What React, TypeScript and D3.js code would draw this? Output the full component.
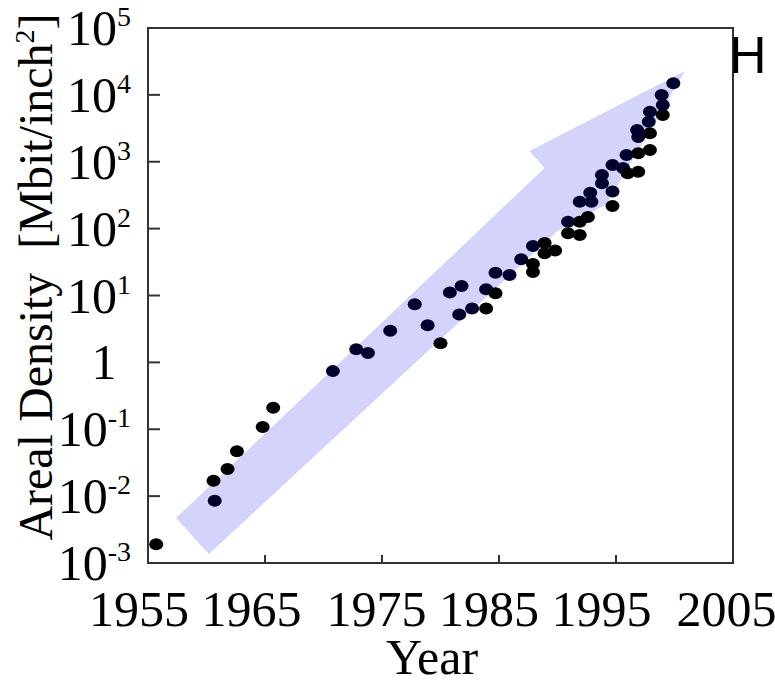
import React from "react";
import * as d3 from "d3";

// ---- data ----
const years = [
  1955.7, 1960.6, 1960.7, 1961.8, 1962.6, 1964.8, 1965.7, 1970.8, 1972.8, 1973.8,
  1975.7, 1977.8, 1978.9, 1980.0, 1980.8, 1981.8, 1981.6, 1982.7, 1983.9, 1983.9,
  1984.7, 1984.7, 1985.9, 1986.9, 1987.9, 1987.9, 1987.9, 1988.9, 1988.9, 1989.8,
  1990.9, 1990.9, 1991.9, 1991.9, 1992.6, 1991.9, 1992.8, 1992.9, 1993.8, 1993.8,
  1994.7, 1994.7, 1994.7, 1995.6, 1996.0, 1996.9, 1995.9, 1996.9, 1997.9, 1996.9,
  1996.8, 1997.9, 1997.8, 1997.9, 1999.0, 1999.0, 1998.9, 1999.9,
];
const densities = [
  0.0019, 0.017, 0.0085, 0.0255, 0.047, 0.108, 0.21, 0.74, 1.57, 1.38,
  2.98, 7.4, 3.6, 1.93, 11.1, 13.9, 5.2, 6.4, 6.4, 12.4,
  10.8, 21.9, 20.3, 34.8, 55, 29.6, 22.5, 61, 42.8, 47.1,
  127, 85, 127, 80, 149, 253, 344, 253, 634, 476,
  359, 218, 894, 807, 672, 710, 1260, 1340, 1500, 2340,
  2990, 2660, 3970, 5600, 5000, 7060, 9950, 14900,
];

// arrow outline (year, density)
const arrowYears = [1957.4, 1988.9, 1987.6, 2000.9, 1994.2, 1990.0, 1960.2];
const arrowValues = [0.0047, 807, 1449, 22750, 233, 92, 0.00136];

const yTickValues = [1e-3, 1e-2, 1e-1, 1, 1e1, 1e2, 1e3, 1e4, 1e5];
const yTickExponents = ["-3", "-2", "-1", "", "1", "2", "3", "4", "5"];
const xTickYears = [1965, 1975, 1985, 1995];
const xTickLabelText = "1955 1965  1975 1985 1995  2005";
const xTitle = "Year";
const yTitleMain = "Areal Density  [Mbit/inch";
const yTitleSup = "2";
const yTitleEnd = "]";
const panelLetter = "H";

export default function App() {
  const W = 775;
  const H = 685;
  const x = d3.scaleLinear().domain([1955, 2005]).range([148, 733]);
  const y = d3.scaleLog().domain([1e-3, 1e5]).range([563, 28]);

  const arrowPts: [number, number][] = arrowYears.map((yr, i) => [x(yr), y(arrowValues[i])]);
  const arrowPath = (d3.line()(arrowPts) || "") + "Z";

  const serif = "'Liberation Serif', 'Times New Roman', serif";
  const axisColor = "#333";

  return (
    <svg
      width={W}
      height={H}
      viewBox={`0 0 ${W} ${H}`}
      style={{ position: "absolute", left: 0, top: 0, background: "#fff" }}
    >
      <rect x={0} y={0} width={W} height={H} fill="#fff" />
      {/* arrow */}
      <path d={arrowPath} fill="#d3d3fb" />
      {/* dots */}
      {years.map((yr, i) => {
        const cx = x(yr);
        const cy = y(densities[i]);
        const inside = d3.polygonContains(arrowPts, [cx, cy]);
        return (
          <ellipse
            key={i}
            cx={cx}
            cy={cy}
            rx={7}
            ry={6}
            fill={inside ? "#00002e" : "#000"}
          />
        );
      })}
      {/* frame */}
      <rect
        x={x(1955)}
        y={y(1e5)}
        width={x(2005) - x(1955)}
        height={y(1e-3) - y(1e5)}
        fill="none"
        stroke={axisColor}
        strokeWidth={2}
      />
      {/* y ticks (interior decades) */}
      {yTickValues.slice(1, -1).map((v) => (
        <line
          key={"yt" + v}
          x1={x(1955)}
          x2={x(1955) + 12}
          y1={y(v)}
          y2={y(v)}
          stroke={axisColor}
          strokeWidth={2}
        />
      ))}
      {/* x ticks */}
      {xTickYears.map((yr) => (
        <line
          key={"xt" + yr}
          x1={x(yr)}
          x2={x(yr)}
          y1={y(1e-3)}
          y2={y(1e-3) - 8}
          stroke={axisColor}
          strokeWidth={2}
        />
      ))}
      {/* y tick labels */}
      {yTickValues.map((v, i) => {
        const e = yTickExponents[i];
        if (e === "") {
          return (
            <text
              key={"yl" + v}
              x={104}
              y={y(v) + 17}
              fontFamily={serif}
              fontSize={50}
              textAnchor="middle"
              fill="#000"
            >
              1
            </text>
          );
        }
        return (
          <text
            key={"yl" + v}
            x={131}
            y={y(v) + 17}
            fontFamily={serif}
            fontSize={50}
            textAnchor="end"
            fill="#000"
          >
            10
            <tspan fontSize={28} dy={-19}>
              {e}
            </tspan>
          </text>
        );
      })}
      {/* x tick labels (single string as in original) */}
      <text
        x={89}
        y={626}
        fontFamily={serif}
        fontSize={50}
        fill="#000"
        style={{ whiteSpace: "pre" }}
        xmlSpace="preserve"
      >
        {xTickLabelText}
      </text>
      {/* x title */}
      <text x={432} y={674} fontFamily={serif} fontSize={50} textAnchor="middle" fill="#000">
        {xTitle}
      </text>
      {/* y title */}
      <text
        transform={`translate(52, ${277}) rotate(-90)`}
        fontFamily={serif}
        fontSize={48}
        textAnchor="middle"
        fill="#000"
        style={{ whiteSpace: "pre" }}
        xmlSpace="preserve"
      >
        {yTitleMain}
        <tspan fontSize={28} dy={-18}>
          {yTitleSup}
        </tspan>
        <tspan dy={18}>{yTitleEnd}</tspan>
      </text>
      {/* panel letter */}
      <text
        x={729}
        y={73}
        fontFamily="'Liberation Sans', Arial, sans-serif"
        fontSize={52}
        fill="#000"
      >
        {panelLetter}
      </text>
    </svg>
  );
}
